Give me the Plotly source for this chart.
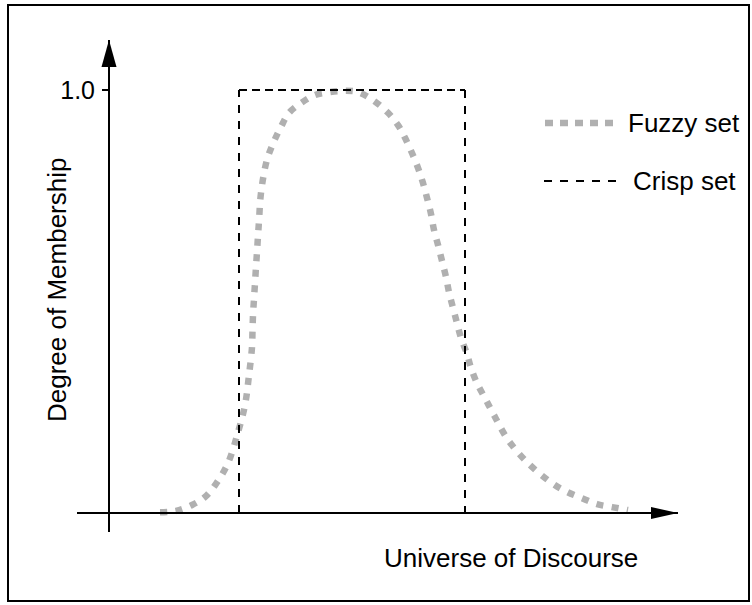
import plotly.graph_objects as go

# Fuzzy set membership curve (universe value, degree of membership)
fuzzy_x = [1.02, 1.34, 1.66, 1.92, 2.14, 2.38, 2.58, 2.72, 2.80, 2.86, 2.87, 2.88,
           2.90, 2.92, 2.94, 2.96, 2.98, 3.00, 3.04, 3.16, 3.32, 3.44, 3.60, 3.84,
           4.12, 4.42, 4.72, 4.98, 5.28, 5.58, 5.78, 5.92, 6.06, 6.18, 6.28, 6.36,
           6.44, 6.50, 6.58, 6.66, 6.74, 6.80, 6.88, 6.96, 7.04, 7.16, 7.24, 7.36,
           7.54, 7.72, 7.98, 8.38, 8.88, 9.16, 9.46, 9.76, 10.06, 10.38]
fuzzy_y = [0.002, 0.005, 0.019, 0.038, 0.069, 0.118, 0.191, 0.255, 0.326, 0.392, 0.430, 0.468,
           0.506, 0.544, 0.582, 0.617, 0.655, 0.690, 0.757, 0.835, 0.884, 0.913, 0.946, 0.969,
           0.988, 0.995, 0.998, 0.995, 0.976, 0.946, 0.917, 0.887, 0.851, 0.816, 0.780, 0.745,
           0.707, 0.669, 0.634, 0.596, 0.558, 0.522, 0.485, 0.449, 0.414, 0.376, 0.343, 0.307,
           0.267, 0.227, 0.173, 0.118, 0.069, 0.050, 0.035, 0.021, 0.014, 0.007]

# Crisp set: membership 1 between the two edges, 0 elsewhere
crisp_left = 2.60
crisp_right = 7.12
crisp_height = 1.0

y_tick_vals = [1.0]
y_tick_text = ["1.0"]

W, H = 752, 605
FONT = "Liberation Sans, Arial, sans-serif"
GRAY = "#b0b0b0"

# axis extents
x_min, x_max = -0.64, 11.38
y_min, y_max = -0.0449, 1.1182


def px(x):
    return x / W


def py(y):
    return (H - y) / H


fig = go.Figure()

fig.add_trace(go.Scatter(
    x=fuzzy_x, y=fuzzy_y, mode="lines", line_shape="spline",
    line=dict(color=GRAY, width=6.5, dash="7px,8.5px"), hoverinfo="skip"))

# crisp set - verticals and top drawn separately (different dash spacing)
fig.add_trace(go.Scatter(
    x=[crisp_left, crisp_left, None, crisp_right, crisp_right],
    y=[0, crisp_height, None, crisp_height, 0], mode="lines",
    line=dict(color="black", width=2, dash="8px,8px"), hoverinfo="skip"))
fig.add_trace(go.Scatter(
    x=[crisp_left, crisp_right], y=[crisp_height, crisp_height], mode="lines",
    line=dict(color="black", width=2, dash="8px,5px"), hoverinfo="skip"))

shapes = []
# arrowheads at ends of the axes
shapes.append(dict(type="path", xref="x", yref="y",
                   path=f"M {-0.15},{y_max - 0.0638} L 0,{y_max} L {0.15},{y_max - 0.0638} Z",
                   fillcolor="black", line=dict(width=0)))
shapes.append(dict(type="path", xref="x", yref="y",
                   path=f"M {x_max - 0.54},{-0.0142} L {x_max},0 L {x_max - 0.54},{0.0142} Z",
                   fillcolor="black", line=dict(width=0)))
# legend samples
shapes.append(dict(type="line", xref="paper", yref="paper",
                   x0=px(545), x1=px(614), y0=py(123), y1=py(123),
                   line=dict(color=GRAY, width=6.5, dash="8px,7px")))
shapes.append(dict(type="line", xref="paper", yref="paper",
                   x0=px(544), x1=px(616), y0=py(181), y1=py(181),
                   line=dict(color="black", width=2, dash="8px,8px")))
# frame
shapes.append(dict(type="rect", xref="paper", yref="paper",
                   x0=px(8), x1=px(749), y0=py(601), y1=py(5),
                   line=dict(color="black", width=2)))

annotations = [
    dict(text="Degree of Membership", x=px(57), y=py(290), textangle=-90),
    dict(text="Universe of Discourse", x=px(511), y=py(558)),
    dict(text="Fuzzy set", x=px(626), y=py(123), xanchor="left"),
    dict(text="Crisp set", x=px(631), y=py(181), xanchor="left"),
]
for a in annotations:
    a.update(xref="paper", yref="paper", showarrow=False,
             font=dict(family=FONT, size=26, color="black"))
    a.setdefault("xanchor", "center")
    a["yanchor"] = "middle"

fig.update_layout(
    width=W, height=H,
    margin=dict(l=0, r=0, t=0, b=0),
    paper_bgcolor="white", plot_bgcolor="white",
    showlegend=False,
    shapes=shapes,
    annotations=annotations,
    xaxis=dict(domain=[px(77), px(678)], range=[x_min, x_max],
               anchor="free", position=py(513),
               showline=True, linecolor="black", linewidth=2,
               showgrid=False, zeroline=False, showticklabels=False, ticks=""),
    yaxis=dict(domain=[py(532), py(40)], range=[y_min, y_max],
               anchor="free", position=px(109),
               showline=True, linecolor="black", linewidth=2,
               showgrid=False, zeroline=False,
               tickvals=y_tick_vals, ticktext=y_tick_text,
               ticks="outside", ticklen=6, tickwidth=2, tickcolor="black",
               ticklabelstandoff=2,
               tickfont=dict(family=FONT, size=25, color="black")),
)

# page has a default 8px body margin; drop it so the figure sits at the window corner
fig.write_html("out.html", config={"displayModeBar": False},
               post_script="document.body.style.margin='0px';")
